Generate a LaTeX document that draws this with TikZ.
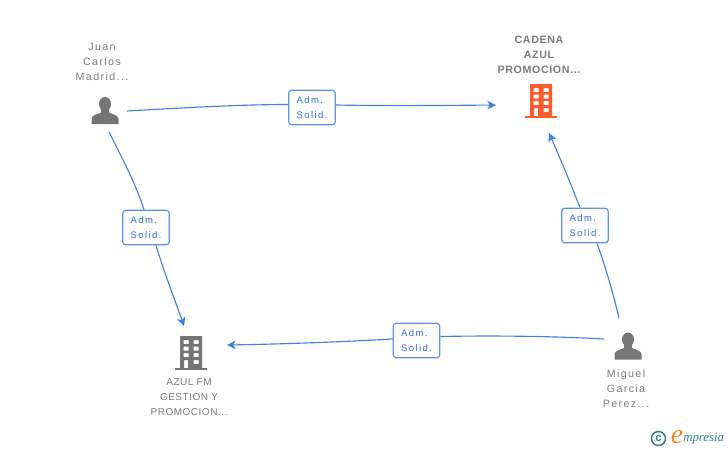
\documentclass[tikz,border=0pt]{standalone}
\usepackage{fontspec}
\setmainfont{Liberation Sans}
\newfontfamily\spaced[LetterSpace=13]{Liberation Sans}
\newfontfamily\spacedcaps[LetterSpace=5]{Liberation Sans}
\newfontfamily\spacedb[LetterSpace=6]{Liberation Sans}
\newfontfamily\rolefont[LetterSpace=15]{Liberation Sans}
\newfontfamily\logofont{Liberation Serif}
\usetikzlibrary{arrows.meta}
\definecolor{linkblue}{HTML}{3F82E0}
\definecolor{labelblue}{HTML}{2F6FD6}
\definecolor{icongray}{HTML}{757575}
\definecolor{textgray}{HTML}{7A7A7A}
\definecolor{iconorange}{HTML}{FF5C2E}
\definecolor{logoteal}{HTML}{2F7F93}
\definecolor{logoorange}{HTML}{F08A1E}
\tikzset{
  x=0.75pt,y=-0.75pt,
  link/.style={draw=linkblue,line width=0.85pt},
  arrowlink/.style={link,-{Stealth[length=6.5pt,width=6.5pt,inset=1.8pt]}},
  rolebox/.style={draw=linkblue!85,line width=0.9pt,rounded corners=2.4pt,top color=black!2,bottom color=white,
     minimum width=35pt,minimum height=26pt,inner sep=0pt,align=left,
     text=labelblue,font=\rolefont\fontsize{7.1}{11.25}\selectfont},
  nametext/.style={align=center,inner sep=0pt,text=textgray,font=\spaced\fontsize{8}{11.25}\selectfont},
  capsname/.style={align=center,inner sep=0pt,text=textgray,font=\spacedcaps\fontsize{7.5}{11.25}\selectfont},
  boldname/.style={align=center,inner sep=0pt,text=textgray,font=\spacedb\bfseries\fontsize{8}{11.25}\selectfont},
  personicon/.pic={
    \fill[icongray] (0,-7) ellipse (6 and 7);
    \fill[icongray] (-13.5,13) -- (-13.5,8) .. controls (-13.5,4) and (-8,3.5) .. (-4,1.5)
       -- (-4,-3) -- (4,-3) -- (4,1.5) .. controls (8,3.5) and (13.5,4) .. (13.5,8) -- (13.5,13) -- cycle;
  },
  buildingpic/.pic={
      \fill[pic actions,even odd rule] (-11,-17) rectangle (11,15)
        (-7.5,-13) rectangle (-2.5,-9) (2.5,-13) rectangle (7.5,-9)
        (-7.5,-6.5) rectangle (-2.5,-2.5) (2.5,-6.5) rectangle (7.5,-2.5)
        (-7.5,0) rectangle (-2.5,4) (2.5,0) rectangle (7.5,4)
        (-7,7) rectangle (-3,15) (2.5,7) rectangle (7.5,11);
      \fill[pic actions] (-16,14.5) rectangle (16,17);
  }
}
\begin{document}
\begin{tikzpicture}
\useasboundingbox (0,0) rectangle (728,450);
% icons
\pic at (105,111) {personicon};
\pic at (628,346.5) {personicon};
\pic[fill=iconorange] at (541,101) {buildingpic};
\pic[fill=icongray] at (191,353) {buildingpic};
% names
\node[nametext] (juan) at (102,62) {Juan\\Carlos\\Madrid...};
\node[boldname] (cadena) at (539,55) {CADENA\\AZUL\\PROMOCION...};
\node[capsname] (azul) at (189,397) {AZUL FM\\GESTION Y\\PROMOCION...};
\node[nametext] (miguel) at (626,389) {Miguel\\Garcia\\Perez...};
% role labels
\node[rolebox] (r1) at (312,107.5) {Adm.\\Solid.};
\node[rolebox] (r2) at (146,227.5) {Adm.\\Solid.};
\node[rolebox] (r3) at (585,225.5) {Adm.\\Solid.};
\node[rolebox] (r4) at (416.5,340.5) {Adm.\\Solid.};
% connector ends
\coordinate (jcE) at (127,111);
\coordinate (jcS) at (109,132);
\coordinate (cadW) at (496,105);
\coordinate (cadS) at (549,133);
\coordinate (azN) at (184,326);
\coordinate (azE) at (227,345);
\coordinate (mgN) at (619,318);
\coordinate (mgW) at (604,339);
% connectors
\draw[link] (jcE) .. controls (180,108) and (240,104.5) .. (r1.west |- 0,104.5);
\draw[arrowlink] (r1.east |- 0,105) .. controls (390,106) and (440,105.5) .. (cadW);
\draw[link] (jcS) .. controls (122,158) and (135,182) .. (r2.north -| 144,0);
\draw[arrowlink] (r2.south -| 156,0) .. controls (165,275) and (175,300) .. (azN);
\draw[link] (mgN) .. controls (613,293) and (606,268) .. (r3.south -| 597,0);
\draw[arrowlink] (r3.north -| 580,0) .. controls (570,182) and (560,158) .. (cadS);
\draw[link] (mgW) .. controls (550,336) and (490,335.5) .. (r4.east |- 0,336.5);
\draw[arrowlink] (r4.west |- 0,339) .. controls (340,342) and (285,344) .. (azE);
% logo
\node[circle,draw=logoteal,line width=1.1pt,minimum size=10.5pt,inner sep=0pt,text=logoteal,font=\bfseries\fontsize{8.5}{8.5}\selectfont] (copy) at (658.5,438.5) {c};
\node[inner sep=0pt,text=logoorange,font=\logofont\itshape\fontsize{21}{21}\selectfont] (logoe) at (677,437) {e};
\node[inner sep=0pt,anchor=west,text=logoteal,font=\logofont\itshape\fontsize{9.6}{10}\selectfont] (logot) at (683,439) {mpresia};
\end{tikzpicture}
\end{document}
